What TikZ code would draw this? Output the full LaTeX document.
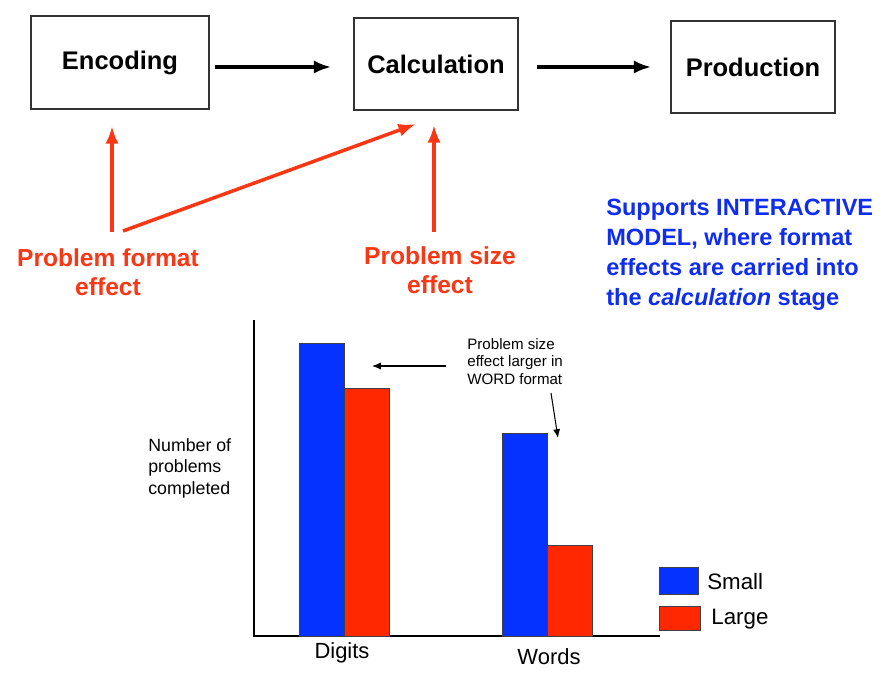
\documentclass[tikz,border=0pt]{standalone}
\usepackage{fontspec}
\setmainfont{Liberation Sans}
\usetikzlibrary{arrows.meta}

\definecolor{barblue}{RGB}{5,50,255}
\definecolor{barred}{RGB}{255,40,0}
\definecolor{effred}{RGB}{250,55,20}
\definecolor{noteblue}{RGB}{15,45,240}

\tikzset{
  stage/.style={draw=black!80, line width=0.7pt, font=\fontsize{14.5}{16}\selectfont\bfseries},
  flow/.style={-{Latex[length=10pt,width=7.5pt]}, line width=2pt},
  effarrow/.style={-{Latex[length=10pt,width=7.5pt]}, line width=2pt, effred},
  efftext/.style={effred, align=center, font=\fontsize{14}{16.5}\selectfont\bfseries},
  bar/.style={draw=black!75, line width=0.5pt},
  pointer/.style={-{Latex[length=5pt,width=4pt]}, line width=0.6pt}
}

\begin{document}
\begin{tikzpicture}[x=0.02cm, y=-0.02cm]
  \useasboundingbox (0,0) rectangle (887,677);

  % stages
  \node[stage, minimum width=3.56cm, minimum height=1.86cm] (enc) at (120,62.5) {Encoding};
  \node[stage, minimum width=3.28cm, minimum height=1.84cm] (calc) at (436,64) {Calculation};
  \node[stage, minimum width=3.28cm, minimum height=1.84cm] (prod) at (753,67) {Production};

  \draw[flow] (enc.east |- 0,67) ++(5,0) -- ([xshift=-0.44cm]calc.west |- 0,67);
  \draw[flow] (calc.east |- 0,67) ++(18,0) -- ([xshift=-0.38cm]prod.west |- 0,67);

  % effects
  \node[efftext] (fmt) at (108,272) {Problem format\\effect};
  \node[efftext] (size) at (440,270) {Problem size\\effect};

  \coordinate (fmtA) at (112,232);
  \coordinate (fmtB) at (123,231);
  \coordinate (sizeA) at (434,232);

  \draw[effarrow] (fmtA) -- (112,126);
  \draw[effarrow] (fmtB) -- (416,124);
  \draw[effarrow] (sizeA) -- (434,125);

  \node[noteblue, anchor=north west, align=left, inner sep=0pt,
        font=\fontsize{13.4}{17}\selectfont\bfseries] (interact) at (606,199)
    {Supports INTERACTIVE\\MODEL, where format\\effects are carried into\\the \textit{calculation} stage};

  % chart
  \draw[line width=0.6pt] (254,320) -- (254,636) -- (660,636);
  \fill[barblue, bar] (299,636) rectangle (344,343);
  \fill[barred, bar] (344,636) rectangle (389,388);
  \fill[barblue, bar] (502,636) rectangle (547,433);
  \fill[barred, bar] (547,636) rectangle (592,545);

  \node[font=\fontsize{12.5}{14}\selectfont] (digits) at (342,653) {Digits};
  \node[font=\fontsize{12.5}{14}\selectfont] (words) at (549,657) {Words};

  \node[anchor=north west, align=left, inner sep=0pt,
        font=\fontsize{10.1}{12.2}\selectfont] (ylab) at (148,438)
    {Number of\\problems\\completed};

  \node[anchor=north west, align=left, inner sep=0pt,
        font=\fontsize{8.6}{10}\selectfont] (note) at (467,338)
    {Problem size\\effect larger in\\WORD format};

  \coordinate (noteL) at (446,366);
  \coordinate (noteD) at (551,393);
  \draw[pointer] (noteL) -- (372,366);
  \draw[pointer] (noteD) -- (558,438);

  % legend
  \fill[barblue, bar] (659,567) rectangle (698,594);
  \fill[barred, bar] (659,606) rectangle (700,630);
  \node[anchor=west, inner sep=0pt, font=\fontsize{12.7}{14}\selectfont] (small) at (707,582) {Small};
  \node[anchor=west, inner sep=0pt, font=\fontsize{12.7}{14}\selectfont] (large) at (711,619) {Large};
\end{tikzpicture}
\end{document}
